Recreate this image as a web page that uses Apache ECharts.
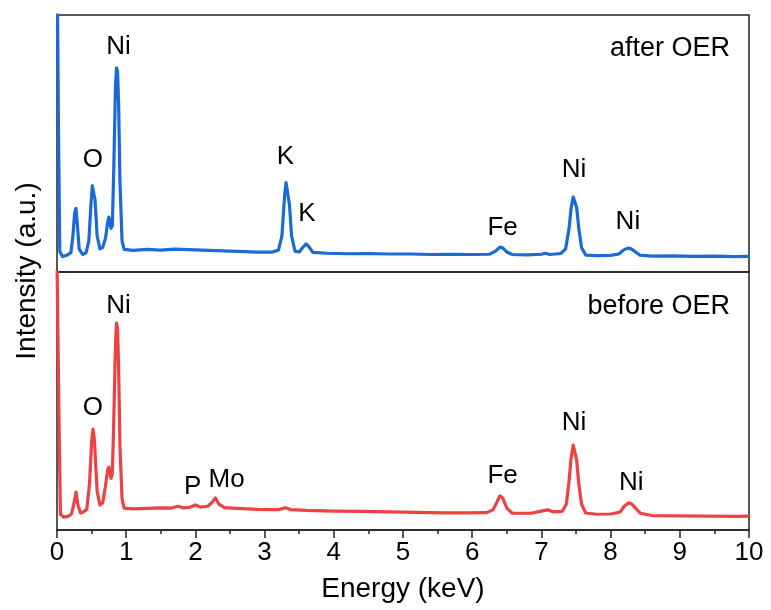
<!DOCTYPE html>
<html>
<head>
<meta charset="utf-8">
<script src="https://cdn.jsdelivr.net/npm/echarts@6/dist/echarts.min.js"></script>
<style>
  html, body { margin: 0; padding: 0; background: #fff; }
  #chart { width: 771px; height: 610px; }
</style>
</head>
<body>
<div id="chart"></div>
<script>
// spectrum: [energy keV, intensity a.u.]
var afterOER = [
    [0.00, 130], [0.02, 60], [0.04, 8], [0.08, 6.0], [0.14, 6.5], [0.20, 7.5], [0.23, 14], [0.255, 23],
    [0.275, 24.8], [0.295, 18], [0.32, 9], [0.37, 6.8], [0.42, 7.5], [0.46, 12], [0.49, 26], [0.51, 33.5],
    [0.53, 34], [0.55, 28], [0.58, 14], [0.62, 9], [0.66, 9.5], [0.70, 13], [0.73, 19], [0.75, 21.4], [0.78, 17],
    [0.80, 18], [0.82, 40], [0.845, 72], [0.86, 79.4], [0.875, 78], [0.89, 66], [0.91, 35], [0.94, 12], [0.97, 8.8],
    [1.1, 8.4], [1.3, 8.8], [1.5, 8.5], [1.7, 8.9], [2.0, 8.6], [2.3, 8.3], [2.6, 8.0], [2.9, 7.7],
    [3.1, 7.7], [3.2, 8.5], [3.25, 14], [3.29, 30], [3.31, 34.8], [3.33, 34.5], [3.36, 26], [3.39, 14], [3.44, 8],
    [3.5, 7.8], [3.56, 9.8], [3.60, 10.9], [3.64, 9.8], [3.70, 7.6], [3.9, 7.3], [4.2, 7.1], [4.5, 7.2],
    [4.8, 7.0], [5.1, 7.0], [5.4, 6.8], [5.7, 6.9], [6.0, 6.8], [6.25, 6.9], [6.33, 8.0], [6.40, 9.7],
    [6.44, 9.4], [6.50, 7.8], [6.58, 6.8], [6.8, 6.7], [7.0, 6.9], [7.06, 7.3], [7.12, 6.8], [7.28, 7.2], [7.35, 9],
    [7.40, 17], [7.43, 25], [7.46, 29.2], [7.48, 29], [7.51, 25], [7.54, 17], [7.58, 9.5], [7.64, 6.6], [7.8, 6.4],
    [8.0, 6.5], [8.12, 7], [8.19, 8.6], [8.25, 9.3], [8.29, 9.1], [8.35, 8.0], [8.42, 6.6], [8.6, 6.2], [8.9, 6.3],
    [9.2, 6.1], [9.5, 6.2], [9.8, 6.0], [10.0, 6.1]
];
var beforeOER = [
    [0.00, 105], [0.03, 40], [0.05, 6], [0.10, 5.0], [0.16, 5.3], [0.21, 6.2], [0.25, 11], [0.275, 14.7],
    [0.30, 10], [0.34, 6.6], [0.38, 7], [0.43, 8], [0.47, 18], [0.50, 34], [0.52, 39.1], [0.54, 35],
    [0.58, 15], [0.62, 9.7], [0.66, 10.5], [0.70, 17], [0.73, 23], [0.75, 24.4], [0.78, 20], [0.80, 22],
    [0.82, 42], [0.845, 72], [0.86, 80.2], [0.875, 78], [0.89, 64], [0.91, 32], [0.94, 12], [0.97, 8.5], [1.1, 8.2],
    [1.3, 8.4], [1.5, 8.6], [1.65, 8.5], [1.75, 9.2], [1.82, 8.6], [1.92, 8.8], [2.0, 9.7], [2.07, 8.9],
    [2.18, 9.2], [2.25, 11], [2.29, 12.4], [2.34, 10], [2.42, 8.7], [2.6, 8.4], [2.9, 8.0], [3.2, 7.9],
    [3.3, 8.6], [3.38, 7.9], [3.6, 7.6], [4.0, 7.3], [4.4, 7.2], [4.8, 7.0], [5.2, 6.8], [5.6, 6.6],
    [5.9, 6.6], [6.2, 6.7], [6.3, 7.8], [6.36, 11], [6.40, 13.2], [6.44, 12.5], [6.50, 8.5], [6.58, 6.5],
    [6.85, 6.5], [7.0, 7.3], [7.09, 7.8], [7.18, 7.0], [7.3, 7.2], [7.36, 10], [7.40, 19], [7.43, 28],
    [7.46, 32.9], [7.48, 32.5], [7.51, 27], [7.54, 18], [7.58, 10], [7.64, 6.6], [7.8, 6.1], [8.0, 6.2], [8.14, 7.0],
    [8.20, 9.3], [8.26, 10.5], [8.30, 10.2], [8.36, 8.5], [8.43, 6.5], [8.6, 5.6], [9.0, 5.5], [9.4, 5.4], [9.8, 5.3],
    [10.0, 5.4]
];
// element labels [energy, intensity, text]
var afterLabels = [
    [0.89, 87.7, 'Ni'], [0.52, 43.6, 'O'], [3.30, 44.7, 'K'], [3.61, 22.6, 'K'],
    [6.44, 17.1, 'Fe'], [7.47, 39.7, 'Ni'], [8.25, 19.5, 'Ni']
];
var beforeLabels = [
    [0.89, 86.8, 'Ni'], [0.52, 47.3, 'O'], [1.96, 16.7, 'P'], [2.45, 19.4, 'Mo'],
    [6.44, 20.9, 'Fe'], [7.47, 41.5, 'Ni'], [8.30, 18.2, 'Ni']
];
var xTicks = [0, 1, 2, 3, 4, 5, 6, 7, 8, 9, 10];

var font = 'Liberation Sans, Arial, sans-serif';
var blue = '#1c6ad6';
var red = '#ec4244';

function toLabelData(arr) {
    return arr.map(function (d) { return { value: [d[0], d[1]], name: d[2] }; });
}

var peakLabel = { show: true, position: 'inside', formatter: '{b}', fontFamily: font, fontSize: 26, color: '#000', textBorderWidth: 0, opacity: 1 };

var chart = echarts.init(document.getElementById('chart'));
var option = {
    backgroundColor: '#fff',
    animation: false,
    title: [
        { text: 'after OER', right: 36, top: 30, textStyle: { fontFamily: font, fontSize: 27, fontWeight: 'normal', color: '#000' } },
        { text: 'before OER', right: 36, top: 288, textStyle: { fontFamily: font, fontSize: 27, fontWeight: 'normal', color: '#000' } }
    ],
    grid: [
        { left: 57, right: 22, top: 15, height: 257, show: true, borderColor: '#222', borderWidth: 1.5, backgroundColor: 'transparent' },
        { left: 57, right: 22, top: 272, height: 258, show: true, borderColor: '#222', borderWidth: 1.5, backgroundColor: 'transparent' }
    ],
    xAxis: [
        { gridIndex: 0, type: 'value', min: 0, max: 10, interval: 1, show: false },
        {
            gridIndex: 1, type: 'value', min: xTicks[0], max: xTicks[xTicks.length - 1], interval: 1,
            name: 'Energy (keV)', nameLocation: 'middle', nameGap: 45,
            nameTextStyle: { fontFamily: font, fontSize: 28, color: '#000' },
            axisLine: { lineStyle: { color: '#222', width: 1.5 } },
            axisTick: { show: true, length: 8, lineStyle: { color: '#222', width: 1.5 } },
            minorTick: { show: true, splitNumber: 2, length: 4, lineStyle: { color: '#222', width: 1.5 } },
            axisLabel: { fontFamily: font, fontSize: 26, color: '#000', margin: 10 },
            splitLine: { show: false }
        }
    ],
    yAxis: [
        { gridIndex: 0, type: 'value', min: 0, max: 100, show: false },
        { gridIndex: 1, type: 'value', min: 0, max: 100, show: false }
    ],
    graphic: [
        {
            type: 'text', x: 27, y: 271, rotation: Math.PI / 2,
            style: { text: 'Intensity (a.u.)', fontFamily: font, fontSize: 28, fill: '#000', textAlign: 'center', textVerticalAlign: 'middle' }
        }
    ],
    series: [
        {
            type: 'line', xAxisIndex: 0, yAxisIndex: 0, data: afterOER, showSymbol: false, clip: true,
            lineStyle: { color: blue, width: 3.2, join: 'round' }, itemStyle: { color: blue }
        },
        {
            type: 'line', xAxisIndex: 1, yAxisIndex: 1, data: beforeOER, showSymbol: false, clip: true,
            lineStyle: { color: red, width: 3.2, join: 'round' }, itemStyle: { color: red }
        },
        {
            type: 'scatter', xAxisIndex: 0, yAxisIndex: 0, data: toLabelData(afterLabels), symbolSize: 0,
            itemStyle: { opacity: 1 }, label: peakLabel
        },
        {
            type: 'scatter', xAxisIndex: 1, yAxisIndex: 1, data: toLabelData(beforeLabels), symbolSize: 0,
            itemStyle: { opacity: 1 }, label: peakLabel
        }
    ]
};
chart.setOption(option);
</script>
</body>
</html>
